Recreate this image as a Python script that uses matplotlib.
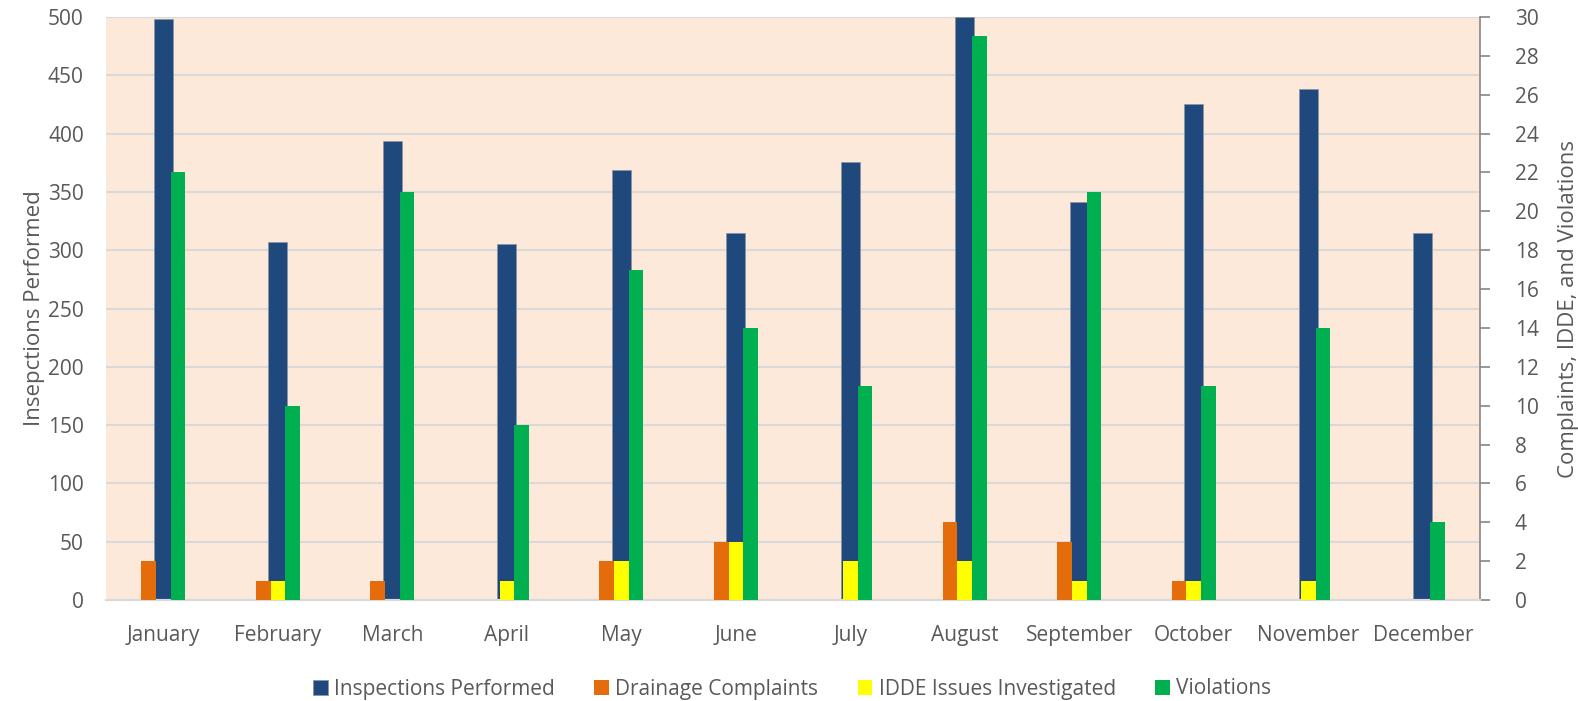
import matplotlib
matplotlib.use("Agg")
import matplotlib.pyplot as plt
import numpy as np

months = ["January", "February", "March", "April", "May", "June",
          "July", "August", "September", "October", "November", "December"]
inspections = [498, 307, 394, 305, 369, 315, 376, 500, 341, 425, 438, 315]
drainage = [2, 1, 1, 0, 2, 3, 0, 4, 3, 1, 0, 0]
idde = [0, 1, 0, 1, 2, 3, 2, 2, 1, 1, 1, 0]
violations = [22, 10, 21, 9, 17, 14, 11, 29, 21, 11, 14, 4]

plt.rcParams['font.family'] = ['Open Sans', 'DejaVu Sans']
txt = '#595959'

fig = plt.figure(figsize=(15.78, 7.01), dpi=100)
ax = fig.add_axes([0.0672, 0.1441, 0.8707, 0.8316])
ax.set_facecolor('#FDE9D9')
ax2 = ax.twinx()

x = np.arange(len(months))
bw = 0.127

ax.bar(x, inspections, width=0.166, color='#1F497D', edgecolor='#8a93a3', linewidth=0.5,
       label='Inspections Performed', zorder=2)
ax2.bar(x - bw, drainage, width=bw, color='#E46C0A', label='Drainage Complaints', zorder=3)
ax2.bar(x, idde, width=bw, color='#FFFF00', label='IDDE Issues Investigated', zorder=3)
ax2.bar(x + bw, violations, width=bw, color='#00B050', label='Violations', zorder=3)

ax.set_xlim(-0.5, 11.5)
ax.set_ylim(0, 500)
ax2.set_ylim(0, 30)
ax.set_yticks(np.arange(0, 501, 50))
ax2.set_yticks(np.arange(0, 31, 2))
ax.set_xticks(x)
ax.set_xticklabels(months)

ax.grid(axis='y', color='#D9D9D9', linewidth=1.5, zorder=0)
ax.set_axisbelow(True)

for a in (ax, ax2):
    for s in ('top', 'left', 'right'):
        a.spines[s].set_visible(False)
    a.spines['bottom'].set_color('#D9D9D9')
    a.spines['bottom'].set_linewidth(1.5)
ax2.spines['right'].set_visible(True)
ax2.spines['right'].set_color('#868686')
ax2.spines['right'].set_linewidth(1.2)

ax.tick_params(axis='y', length=0, labelsize=15, colors=txt, pad=16)
ax.tick_params(axis='x', length=0, labelsize=15, colors=txt, pad=18)
ax2.tick_params(axis='y', length=7, width=1.2, color='#868686', labelsize=15,
                labelcolor=txt, pad=18)

ax.set_ylabel('Insepctions Performed', fontsize=16, color=txt, labelpad=2)
ax2.set_ylabel('Complaints, IDDE, and Violations', fontsize=16, color=txt, labelpad=14)

h1, l1 = ax.get_legend_handles_labels()
h2, l2 = ax2.get_legend_handles_labels()
fig.legend(h1 + h2, l1 + l2, loc='center', bbox_to_anchor=(0.502, 1 - 689 / 701), ncol=4,
           frameon=False, fontsize=15, labelcolor=txt, handlelength=0.7,
           handleheight=0.7, handletextpad=0.3, columnspacing=1.9,
           borderpad=0, borderaxespad=0)

fig.savefig('out.png', dpi=100)
